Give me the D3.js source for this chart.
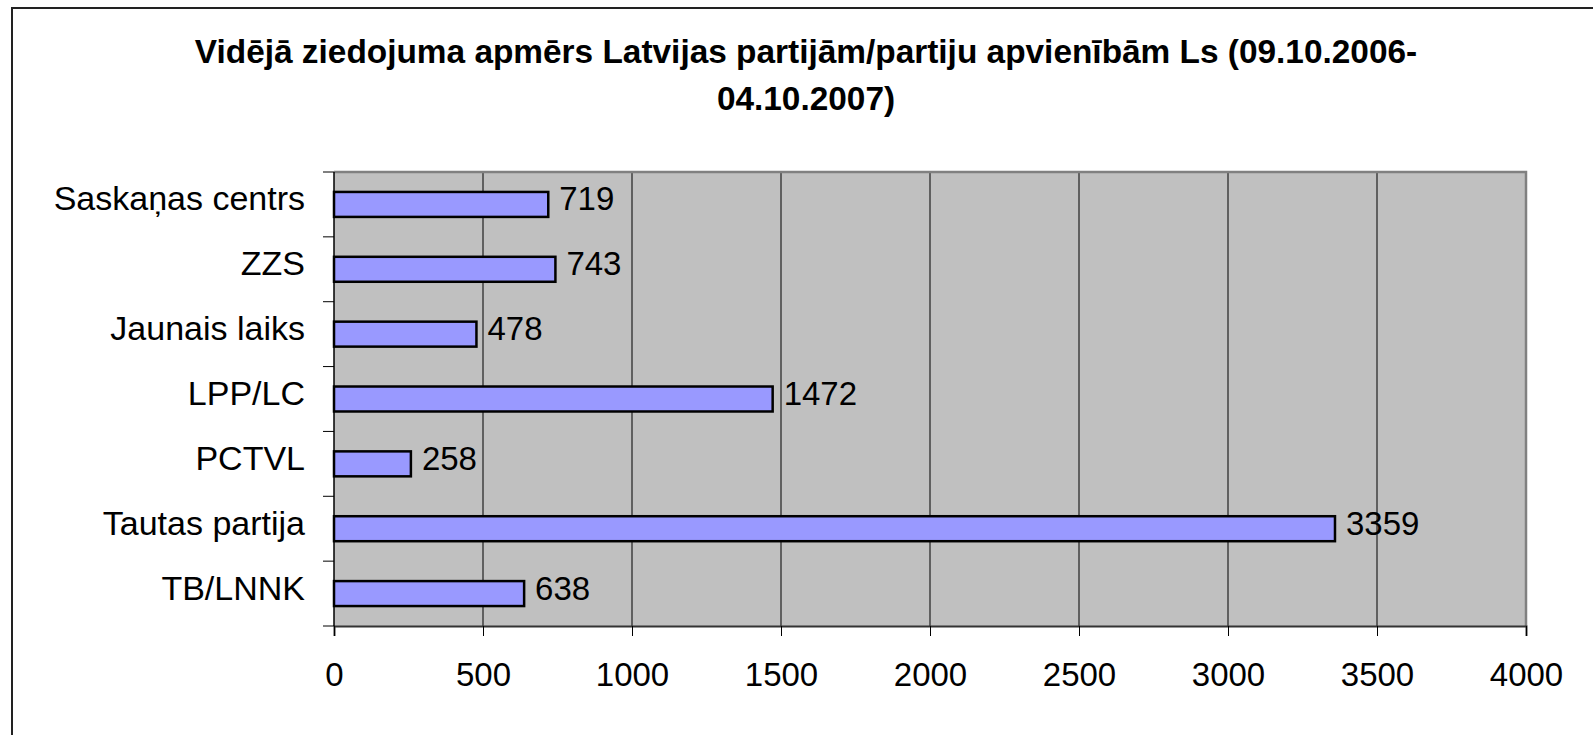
<!DOCTYPE html>
<html>
<head>
<meta charset="utf-8">
<script src="https://cdn.jsdelivr.net/npm/d3@7"></script>
<style>
body{margin:0;background:#fff;}
svg{display:block;}
text{font-family:Arial,"Liberation Sans",sans-serif;fill:#000;}
</style>
</head>
<body>
<svg width="1593" height="735"></svg>
<script>
// chart data
var titleLines=["Vidējā ziedojuma apmērs Latvijas partijām/partiju apvienībām Ls (09.10.2006-","04.10.2007)"];
var parties=["Saskaņas centrs","ZZS","Jaunais laiks","LPP/LC","PCTVL","Tautas partija","TB/LNNK"];
var values=[719,743,478,1472,258,3359,638];
var xTicks=[0,500,1000,1500,2000,2500,3000,3500,4000];

var svg=d3.select('svg');
var L=334, R=1526, T=172, B=626;

// outer frame (runs off the right and bottom edge)
svg.append('rect')
	.attr('x',12).attr('y',8).attr('width',1640).attr('height',800)
	.attr('fill','#fff').attr('stroke','#222').attr('stroke-width',2);

// title
svg.append('g').selectAll('text').data(titleLines).enter().append('text')
	.attr('x',806).attr('y',function(d,i){return 62.5+i*47.5;})
	.attr('text-anchor','middle').attr('font-size',33.4).attr('font-weight','bold')
	.text(function(d){return d;});

var x=d3.scaleLinear().domain([0,4000]).range([L,R]);
var y=d3.scaleBand().domain(parties).range([T,B]).padding(0);
var bh=y.bandwidth()*0.385;

// plot area
svg.append('rect').attr('x',L).attr('y',T).attr('width',R-L).attr('height',B-T)
	.attr('fill','#c0c0c0');

// vertical gridlines
svg.append('g').selectAll('line').data(xTicks.slice(1,-1)).enter().append('line')
	.attr('x1',function(d){return x(d);}).attr('x2',function(d){return x(d);})
	.attr('y1',T).attr('y2',B).attr('stroke','#000').attr('stroke-width',1);

// plot border top/right
svg.append('path').attr('d','M'+L+','+T+'H'+R+'V'+B)
	.attr('fill','none').attr('stroke','#808080').attr('stroke-width',2.5);

// bars
svg.append('g').selectAll('rect').data(parties).enter().append('rect')
	.attr('x',x(0)).attr('y',function(d){return y(d)+(y.bandwidth()-bh)/2;})
	.attr('width',function(d,i){return x(values[i])-x(0);}).attr('height',bh)
	.attr('fill','#9999ff').attr('stroke','#000').attr('stroke-width',2.5);

// value labels
svg.append('g').selectAll('text').data(parties).enter().append('text')
	.attr('x',function(d,i){return x(values[i])+11;})
	.attr('y',function(d){return y(d)+y.bandwidth()/2+6;})
	.attr('font-size',33)
	.text(function(d,i){return values[i];});

// x axis
var xa=svg.append('g').attr('transform','translate(0,'+B+')')
	.call(d3.axisBottom(x).tickValues(xTicks).tickSize(10).tickPadding(27).tickFormat(d3.format('d')));
xa.select('.domain').attr('stroke','#333').attr('stroke-width',2);
xa.selectAll('.tick line').attr('stroke','#000').attr('stroke-width',1);
xa.selectAll('.tick text').attr('font-size',33).attr('font-family','Arial,"Liberation Sans",sans-serif').attr('fill','#000');

// y axis: ticks between categories, labels at centres
var bounds=parties.map(function(d){return y(d);}).concat([B]);
svg.append('g').selectAll('line').data(bounds).enter().append('line')
	.attr('x1',L-11).attr('x2',L).attr('y1',function(d){return d;}).attr('y2',function(d){return d;})
	.attr('stroke','#000').attr('stroke-width',1);
svg.append('line').attr('x1',L).attr('x2',L).attr('y1',T).attr('y2',B)
	.attr('stroke','#000').attr('stroke-width',1.5);
svg.append('g').selectAll('text').data(parties).enter().append('text')
	.attr('x',305).attr('y',function(d){return y(d)+y.bandwidth()/2+6;})
	.attr('text-anchor','end').attr('font-size',34)
	.text(function(d){return d;});
</script>
</body>
</html>
